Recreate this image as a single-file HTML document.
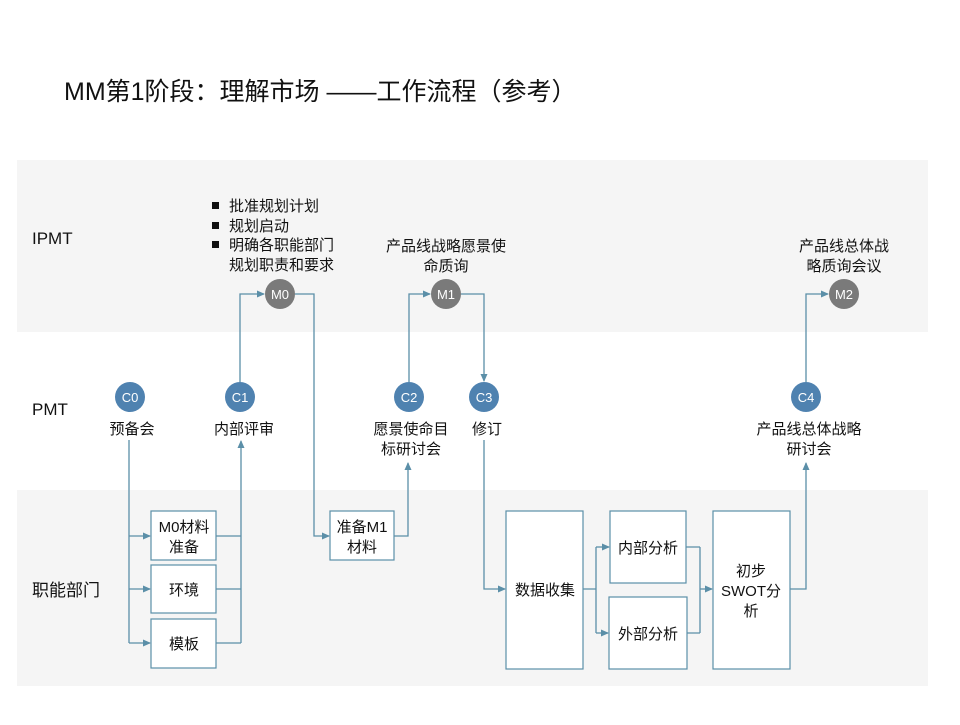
<!DOCTYPE html>
<html><head><meta charset="utf-8"><style>
body{margin:0;background:#fff;}
svg text{font-family:"Liberation Sans","Noto Sans CJK SC",sans-serif;fill:#111;}
</style></head><body>
<svg width="960" height="720" viewBox="0 0 960 720" xmlns="http://www.w3.org/2000/svg">
<defs><marker id="a" markerWidth="8" markerHeight="8" refX="7" refY="4" orient="auto" markerUnits="userSpaceOnUse"><path d="M0,0.5 L8,4 L0,7.5z" fill="#5b8fa8"/></marker></defs>
<rect x="0" y="0" width="960" height="720" fill="#fff"/>
<rect x="17" y="160" width="911" height="172" fill="#f5f5f5"/>
<rect x="17" y="490" width="911" height="196" fill="#f5f5f5"/>
<text x="64" y="100" font-size="25">MM第1阶段：理解市场 ——工作流程（参考）</text>
<text x="32" y="244" font-size="17">IPMT</text>
<text x="32" y="415" font-size="17">PMT</text>
<text x="32" y="596" font-size="17">职能部门</text>
<g fill="none" stroke="#5b8fa8" stroke-width="1.3">
<path d="M129,440 V643"/>
<path d="M129,536 H150" marker-end="url(#a)"/><path d="M129,589 H150" marker-end="url(#a)"/><path d="M129,643 H150" marker-end="url(#a)"/>
<path d="M216,536 H241 M216,589 H241 M216,643 H241"/>
<path d="M241,643 V441" marker-end="url(#a)"/>
<path d="M240,382 V294 H264" marker-end="url(#a)"/>
<path d="M295,294 H314 V536 H329" marker-end="url(#a)"/>
<path d="M394,536 H408 V463" marker-end="url(#a)"/>
<path d="M409,382 V294 H430" marker-end="url(#a)"/>
<path d="M461,294 H484 V381" marker-end="url(#a)"/>
<path d="M484,440 V589 H505" marker-end="url(#a)"/>
<path d="M583,589 H596 M596,547 V633"/>
<path d="M596,547 H609" marker-end="url(#a)"/><path d="M596,633 H608" marker-end="url(#a)"/>
<path d="M686,547 H700 M687,633 H700 M700,547 V633"/>
<path d="M700,589 H712" marker-end="url(#a)"/>
<path d="M790,589 H806 V463" marker-end="url(#a)"/>
<path d="M806,382 V294 H828" marker-end="url(#a)"/>
</g>
<g fill="#fff" stroke="#5b8fa8" stroke-width="1.2">
<rect x="151" y="511" width="65" height="49"/><rect x="151" y="565" width="65" height="48"/><rect x="151" y="619" width="65" height="49"/>
<rect x="330" y="511" width="64" height="49"/>
<rect x="506" y="511" width="77" height="158"/>
<rect x="610" y="511" width="76" height="72"/>
<rect x="609" y="597" width="78" height="72"/>
<rect x="713" y="511" width="77" height="158"/>
</g>
<g fill="#4f82b0"><circle cx="130" cy="397" r="15"/><circle cx="240" cy="397" r="15"/><circle cx="409" cy="397" r="15"/><circle cx="484" cy="397" r="15"/><circle cx="806" cy="397" r="15"/></g>
<g fill="#7a7a7a"><circle cx="280" cy="294" r="15"/><circle cx="446" cy="294" r="15"/><circle cx="844" cy="294" r="15"/></g>
<g font-size="13" text-anchor="middle" style="fill:#fff">
<text x="130" y="402" style="fill:#fff">C0</text><text x="240" y="402" style="fill:#fff">C1</text><text x="409" y="402" style="fill:#fff">C2</text><text x="484" y="402" style="fill:#fff">C3</text><text x="806" y="402" style="fill:#fff">C4</text>
<text x="280" y="299" style="fill:#fff">M0</text><text x="446" y="299" style="fill:#fff">M1</text><text x="844" y="299" style="fill:#fff">M2</text>
</g>
<g font-size="15" text-anchor="middle">
<text x="132" y="434">预备会</text>
<text x="244" y="434">内部评审</text>
<text x="411" y="434">愿景使命目</text><text x="411" y="454">标研讨会</text>
<text x="487" y="434">修订</text>
<text x="809" y="434">产品线总体战略</text><text x="809" y="454">研讨会</text>
<text x="446" y="251">产品线战略愿景使</text><text x="446" y="271">命质询</text>
<text x="844" y="251">产品线总体战</text><text x="844" y="271">略质询会议</text>
<text x="184" y="532">M0材料</text><text x="184" y="552">准备</text>
<text x="184" y="595">环境</text>
<text x="184" y="649">模板</text>
<text x="362" y="532">准备M1</text><text x="362" y="552">材料</text>
<text x="545" y="595">数据收集</text>
<text x="648" y="553">内部分析</text>
<text x="648" y="639">外部分析</text>
<text x="751" y="576">初步</text><text x="751" y="596">SWOT分</text><text x="751" y="616">析</text>
</g>
<g font-size="15">
<rect x="212" y="202" width="7" height="7" fill="#111"/><text x="229" y="211">批准规划计划</text>
<rect x="212" y="222" width="7" height="7" fill="#111"/><text x="229" y="231">规划启动</text>
<rect x="212" y="241" width="7" height="7" fill="#111"/><text x="229" y="250">明确各职能部门</text>
<text x="229" y="270">规划职责和要求</text>
</g>
</svg>
</body></html>
